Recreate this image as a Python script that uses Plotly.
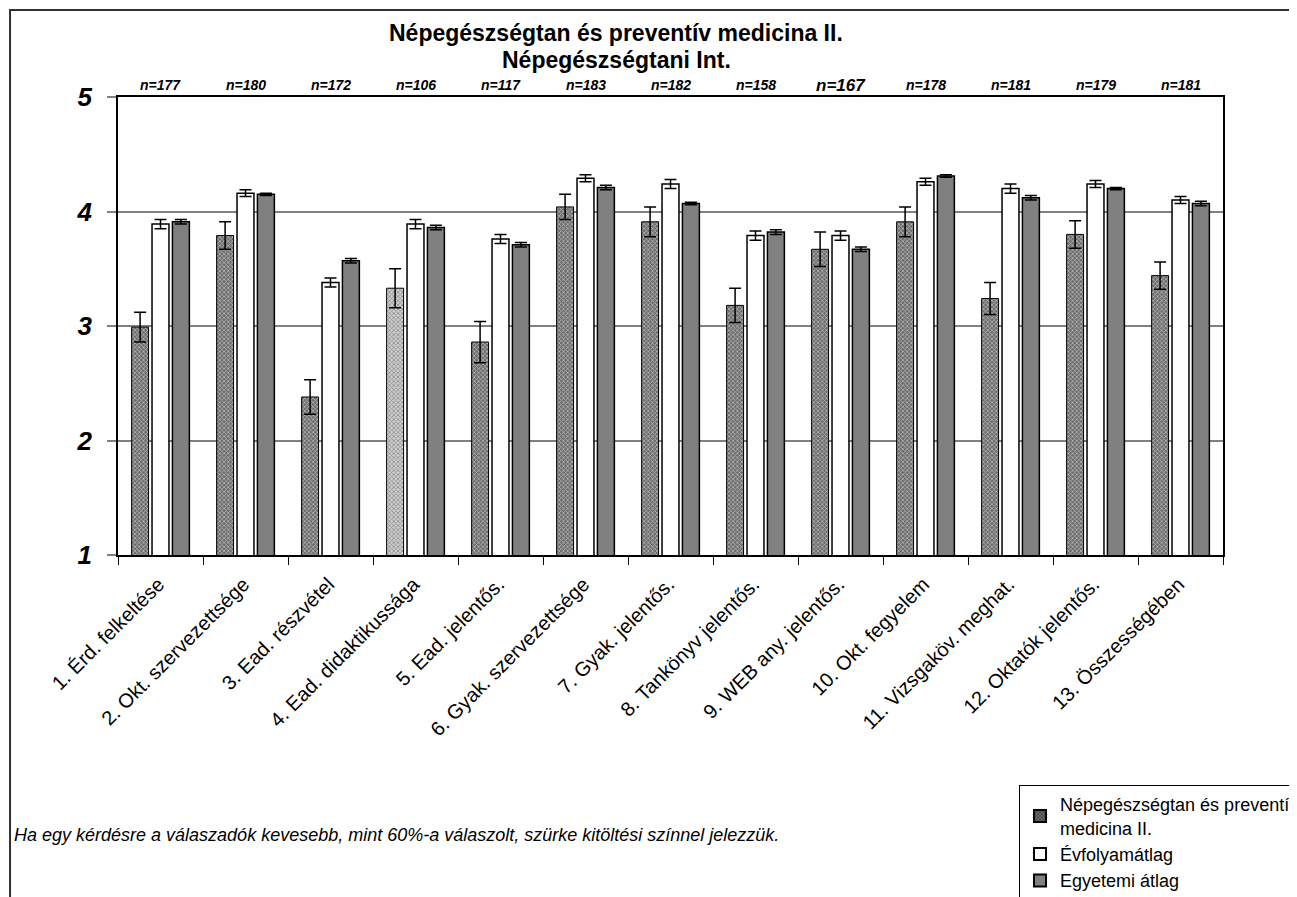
import plotly.graph_objects as go

categories = ["1. Érd. felkeltése", "2. Okt. szervezettsége", "3. Ead. részvétel",
              "4. Ead. didaktikussága", "5. Ead. jelentős.", "6. Gyak. szervezettsége",
              "7. Gyak. jelentős.", "8. Tankönyv jelentős.", "9. WEB any. jelentős.",
              "10. Okt. fegyelem", "11. Vizsgaköv. meghat.", "12. Oktatók jelentős.",
              "13. Összességében"]
n_values = [177, 180, 172, 106, 117, 183, 182, 158, 167, 178, 181, 179, 181]

subject = [2.99, 3.79, 2.38, 3.33, 2.86, 4.04, 3.91, 3.18, 3.67, 3.91, 3.24, 3.80, 3.44]
subject_err = [0.13, 0.12, 0.15, 0.17, 0.18, 0.11, 0.13, 0.15, 0.15, 0.13, 0.14, 0.12, 0.12]
low_response = [False, False, False, True, False, False, False, False, False, False, False, False, False]

year_avg = [3.89, 4.16, 3.38, 3.89, 3.76, 4.29, 4.24, 3.79, 3.79, 4.26, 4.20, 4.24, 4.10]
year_err = [0.04, 0.03, 0.04, 0.04, 0.04, 0.03, 0.04, 0.04, 0.04, 0.03, 0.04, 0.03, 0.03]

univ_avg = [3.91, 4.15, 3.57, 3.86, 3.71, 4.21, 4.07, 3.82, 3.67, 4.31, 4.12, 4.20, 4.07]
univ_err = [0.02, 0.01, 0.02, 0.02, 0.02, 0.02, 0.01, 0.02, 0.02, 0.01, 0.02, 0.01, 0.02]

series_names = ["Népegészségtan és preventív<br>medicina II.", "Évfolyamátlag", "Egyetemi átlag"]
title_lines = ["Népegészségtan és preventív medicina II.", "Népegészségtani Int."]
footnote = "Ha egy kérdésre a válaszadók kevesebb, mint 60%-a válaszolt, szürke kitöltési színnel jelezzük."

FONT = "Liberation Sans, Arial, sans-serif"

pat_bg = ["#cfcfcf" if lr else "#6c6c6c" for lr in low_response]
pat_fg = ["#7a7a7a" if lr else "#101010" for lr in low_response]

fig = go.Figure()
fig.add_trace(go.Bar(
    x=categories, y=subject, name=series_names[0],
    marker=dict(color=pat_bg, line=dict(color="black", width=1),
                pattern=dict(shape="x", size=3, solidity=0.45, fgcolor=pat_fg, bgcolor=pat_bg)),
    error_y=dict(type="data", array=subject_err, color="black", thickness=1.5, width=6),
))
fig.add_trace(go.Bar(
    x=categories, y=year_avg, name=series_names[1],
    marker=dict(color="white", line=dict(color="black", width=1.5)),
    error_y=dict(type="data", array=year_err, color="black", thickness=1.5, width=6),
))
fig.add_trace(go.Bar(
    x=categories, y=univ_avg, name=series_names[2],
    marker=dict(color="#808080", line=dict(color="black", width=1.5)),
    error_y=dict(type="data", array=univ_err, color="black", thickness=1.5, width=6),
))

# n labels above each category
for cat, n in zip(categories, n_values):
    big = (n == 167)
    fig.add_annotation(x=cat, xref="x", y=1.0, yref="paper", yanchor="middle", yshift=12,
                       text=f"n={n}", showarrow=False,
                       font=dict(family=FONT, size=17 if big else 14, color="black",
                                 weight="bold", style="italic"))

# title
fig.add_annotation(x=0.4507, xref="paper", y=1.0, yref="paper", yshift=64, yanchor="middle",
                   text=title_lines[0], showarrow=False,
                   font=dict(family=FONT, size=23, color="black", weight="bold"))
fig.add_annotation(x=0.4507, xref="paper", y=1.0, yref="paper", yshift=37, yanchor="middle",
                   text=title_lines[1], showarrow=False,
                   font=dict(family=FONT, size=23, color="black", weight="bold"))

# footnote
fig.add_annotation(x=-0.0959, xref="paper", y=-0.611, yref="paper", xanchor="left", yanchor="middle",
                   text=footnote, showarrow=False,
                   font=dict(family=FONT, size=18, color="black", style="italic"))

# reference line at 3
fig.add_hline(y=3, line=dict(color="black", width=1.2), layer="below")

# outer chart frame
fig.add_shape(type="rect", xref="paper", yref="paper", x0=-0.0977, x1=1.2, y0=-0.95, y1=1.19,
              line=dict(color="#303030", width=2), fillcolor="rgba(0,0,0,0)")

fig.update_layout(
    width=1297, height=897,
    margin=dict(l=110, r=82, t=89, b=350, autoexpand=False),
    paper_bgcolor="white", plot_bgcolor="white",
    barmode="group", bargap=0.28, bargroupgap=0.17,
    font=dict(family=FONT, color="black"),
    showlegend=True,
    legend=dict(xref="container", yref="container", x=0.7795, xanchor="left", y=0.1338, yanchor="top",
                bordercolor="black", borderwidth=1, bgcolor="white",
                font=dict(family=FONT, size=18, color="black"),
                traceorder="normal", itemsizing="constant", itemwidth=30,
                tracegroupgap=2),
)
fig.update_xaxes(
    type="category", showline=True, linecolor="black", linewidth=1.5, mirror=True,
    ticks="outside", tickson="boundaries", ticklen=8, tickcolor="black", tickwidth=1,
    tickangle=-45, tickfont=dict(family=FONT, size=20, color="black"),
    ticklabelstandoff=8, ticklabelshift=-2, automargin=False,
    showgrid=False,
)
fig.update_yaxes(
    range=[1, 5], dtick=1, showline=True, linecolor="black", linewidth=1.5, mirror=True,
    showgrid=True, gridcolor="#808080", gridwidth=1.5,
    ticks="outside", ticklen=9, tickcolor="#808080", tickwidth=1.5,
    ticklabelstandoff=10, automargin=False,
    tickfont=dict(family=FONT, size=26, color="black", weight="bold", style="italic"),
    zeroline=False,
)

fig.write_html("out.html")
